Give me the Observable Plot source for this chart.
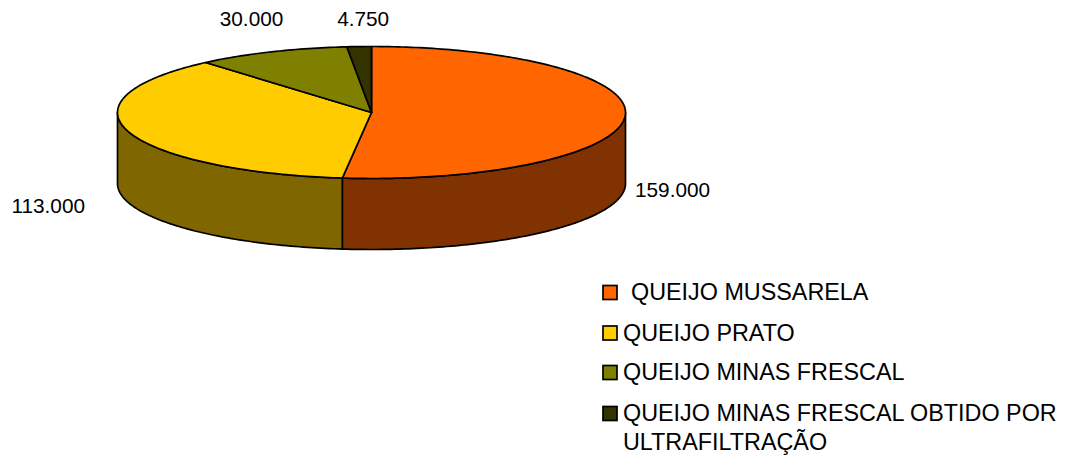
<!DOCTYPE html>
<html>
<head>
<meta charset="utf-8">
<script src="https://cdn.jsdelivr.net/npm/d3@7"></script>
<script src="https://cdn.jsdelivr.net/npm/@observablehq/plot@0.6"></script>
<style>html,body{margin:0;padding:0;background:#fff}svg{display:block}</style>
</head>
<body>
<div id="chart"></div>
<script>
// Data
const categories = ["QUEIJO MUSSARELA", "QUEIJO PRATO", "QUEIJO MINAS FRESCAL", "QUEIJO MINAS FRESCAL OBTIDO POR ULTRAFILTRAÇÃO"];
const values = [159000, 113000, 30000, 4750];
const valueLabels = ["159.000", "113.000", "30.000", "4.750"];
const topColors = ["#ff6600", "#ffcc00", "#808000", "#333300"];
const sideColors = ["#803300", "#806600", "#404000", "#1a1a00"];

// Layout of the tilted pie, in the plot's coordinate space
const W = 1066, H = 455;
const cx = 371, cy = 112, rx = 254, ry = 66, depth = 71;
const font = "'Liberation Sans', Arial, sans-serif", labelSize = 20.8, legendSize = 23.35;
const rim = (t, down = 0) => ({x: cx + rx * Math.sin(t), y: cy - ry * Math.cos(t) + down});
const deg = Math.PI / 180;

const total = d3.sum(values);
let acc = 0;
const slices = values.map((v, i) => {
  const a0 = acc; acc += v;
  return {i, name: categories[i], a0: a0 / total * 2 * Math.PI, a1: acc / total * 2 * Math.PI};
});
const arc = (a0, a1, down = 0) => {
  const n = Math.max(2, Math.ceil((a1 - a0) / deg));
  return d3.range(n + 1).map(k => rim(a0 + (a1 - a0) * k / n, down));
};

const tops = [], walls = [];
for (const s of slices) {
  const pts = [{x: cx, y: cy}, ...arc(s.a0, s.a1), {x: cx, y: cy}];
  pts.forEach(p => tops.push({...p, name: s.name, color: topColors[s.i]}));
  const f0 = Math.max(s.a0, Math.PI / 2), f1 = Math.min(s.a1, 3 * Math.PI / 2);
  if (f1 > f0) {
    const front = arc(f0, f1), lower = arc(f0, f1, depth).reverse();
    [...front, ...lower, front[0]].forEach(p => walls.push({...p, name: s.name, color: sideColors[s.i]}));
  }
}

// Value labels hang off the mid-point of each slice's rim
const labelOffsets = [[47.5, 74], [-80.5, 74], [-20, -32], [4, -27]];
const labels = slices.map(s => {
  const p = rim((s.a0 + s.a1) / 2);
  return {x: p.x + labelOffsets[s.i][0], y: p.y + labelOffsets[s.i][1], text: valueLabels[s.i]};
});

// Legend rows
const rowY = [292.5, 333, 372.5, 413.5];
const textX = [630.5, 622.5, 622.5, 622.5];
const legendLines = [["QUEIJO MUSSARELA"], ["QUEIJO PRATO"], ["QUEIJO MINAS FRESCAL"], ["QUEIJO MINAS FRESCAL OBTIDO POR", "ULTRAFILTRAÇÃO"]];
const swatches = categories.map((c, i) => ({x1: 603, x2: 617, y1: rowY[i] - 7, y2: rowY[i] + 7, color: topColors[i]}));
const legendText = legendLines.flatMap((ls, i) => ls.map((t, j) => ({x: textX[i], y: rowY[i] + j * 29, t})));

const chart = Plot.plot({
  width: W, height: H, margin: 0,
  style: {background: "#fff", fontFamily: font},
  x: {domain: [0, W], range: [0, W], axis: null},
  y: {domain: [0, H], range: [0, H], axis: null},
  marks: [
    Plot.line(walls, {x: "x", y: "y", z: "name", fill: "color", stroke: "#000", strokeWidth: 1.7, curve: "linear", strokeLinejoin: "round"}),
    Plot.line(tops, {x: "x", y: "y", z: "name", fill: "color", stroke: "#000", strokeWidth: 1.7, curve: "linear", strokeLinejoin: "round"}),
    Plot.text(labels, {x: "x", y: "y", text: "text", fontSize: labelSize, fill: "#000", textAnchor: "middle"}),
    Plot.rect(swatches, {x1: "x1", x2: "x2", y1: "y1", y2: "y2", fill: "color", stroke: "#000", strokeWidth: 1.7}),
    Plot.text(legendText, {x: "x", y: "y", text: "t", fontSize: legendSize, fill: "#000", textAnchor: "start"})
  ]
});
document.getElementById("chart").appendChild(chart);
</script>
</body>
</html>
